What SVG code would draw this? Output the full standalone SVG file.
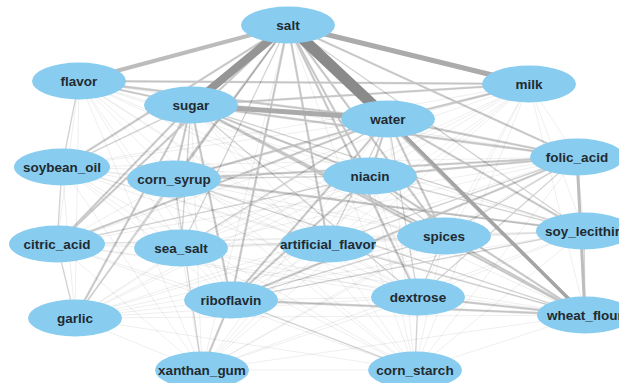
<svg xmlns="http://www.w3.org/2000/svg" width="619" height="383" viewBox="0 0 619 383">
<style>
.faint{fill:none;stroke:#000;stroke-opacity:0.065;stroke-width:1}
.light{fill:none;stroke:#000;stroke-opacity:0.12;stroke-width:1.5}
.med{fill:none;stroke:#000;stroke-opacity:0.18;stroke-width:2.3}
.node ellipse{fill:#88CDF0}
.node text{font-family:"Liberation Sans",Arial,sans-serif;font-size:13.5px;font-weight:bold;fill:#222a30;text-anchor:middle}
</style>
<rect width="619" height="383" fill="#fff"/>
<g id="connectors">
<g id="faint-edges">
<path class="faint" d="M288 25L79 81M288 25L191 105M288 25L529 84M288 25L388 119M288 25L62 167M288 25L174 179M288 25L370 176M288 25L577 157M288 25L57 244M288 25L181 248M288 25L328 244M288 25L444 236M288 25L584 231M288 25L75 318M288 25L231 300M288 25L418 297M288 25L585 315M288 25L202 370M288 25L415 370"/>
<path class="faint" d="M79 81L191 105M79 81L529 84M79 81L388 119M79 81L62 167M79 81L174 179M79 81L370 176M79 81L577 157M79 81L57 244M79 81L181 248M79 81L328 244M79 81L444 236M79 81L584 231M79 81L75 318M79 81L231 300M79 81L418 297M79 81L585 315M79 81L202 370M79 81L415 370"/>
<path class="faint" d="M191 105L529 84M191 105L388 119M191 105L62 167M191 105L174 179M191 105L370 176M191 105L577 157M191 105L57 244M191 105L181 248M191 105L328 244M191 105L444 236M191 105L584 231M191 105L75 318M191 105L231 300M191 105L418 297M191 105L585 315M191 105L202 370M191 105L415 370"/>
<path class="faint" d="M529 84L388 119M529 84L62 167M529 84L174 179M529 84L370 176M529 84L577 157M529 84L57 244M529 84L181 248M529 84L328 244M529 84L444 236M529 84L584 231M529 84L75 318M529 84L231 300M529 84L418 297M529 84L585 315M529 84L202 370M529 84L415 370"/>
<path class="faint" d="M388 119L62 167M388 119L174 179M388 119L370 176M388 119L577 157M388 119L57 244M388 119L181 248M388 119L328 244M388 119L444 236M388 119L584 231M388 119L75 318M388 119L231 300M388 119L418 297M388 119L585 315M388 119L202 370M388 119L415 370"/>
<path class="faint" d="M62 167L174 179M62 167L370 176M62 167L577 157M62 167L57 244M62 167L181 248M62 167L328 244M62 167L444 236M62 167L584 231M62 167L75 318M62 167L231 300M62 167L418 297M62 167L585 315M62 167L202 370M62 167L415 370"/>
<path class="faint" d="M174 179L370 176M174 179L577 157M174 179L57 244M174 179L181 248M174 179L328 244M174 179L444 236M174 179L584 231M174 179L75 318M174 179L231 300M174 179L418 297M174 179L585 315M174 179L202 370M174 179L415 370"/>
<path class="faint" d="M370 176L577 157M370 176L57 244M370 176L181 248M370 176L328 244M370 176L444 236M370 176L584 231M370 176L75 318M370 176L231 300M370 176L418 297M370 176L585 315M370 176L202 370M370 176L415 370"/>
<path class="faint" d="M577 157L57 244M577 157L181 248M577 157L328 244M577 157L444 236M577 157L584 231M577 157L75 318M577 157L231 300M577 157L418 297M577 157L585 315M577 157L202 370M577 157L415 370"/>
<path class="faint" d="M57 244L181 248M57 244L328 244M57 244L444 236M57 244L584 231M57 244L75 318M57 244L231 300M57 244L418 297M57 244L585 315M57 244L202 370M57 244L415 370"/>
<path class="faint" d="M181 248L328 244M181 248L444 236M181 248L584 231M181 248L75 318M181 248L231 300M181 248L418 297M181 248L585 315M181 248L202 370M181 248L415 370"/>
<path class="faint" d="M328 244L444 236M328 244L584 231M328 244L75 318M328 244L231 300M328 244L418 297M328 244L585 315M328 244L202 370M328 244L415 370"/>
<path class="faint" d="M444 236L584 231M444 236L75 318M444 236L231 300M444 236L418 297M444 236L585 315M444 236L202 370M444 236L415 370"/>
<path class="faint" d="M584 231L75 318M584 231L231 300M584 231L418 297M584 231L585 315M584 231L202 370M584 231L415 370"/>
<path class="faint" d="M75 318L231 300M75 318L418 297M75 318L585 315M75 318L202 370M75 318L415 370"/>
<path class="faint" d="M231 300L418 297M231 300L585 315M231 300L202 370M231 300L415 370"/>
<path class="faint" d="M418 297L585 315M418 297L202 370M418 297L415 370M585 315L202 370M585 315L415 370M202 370L415 370"/>
</g>
<g id="light-edges">
<path class="light" d="M288 25L181 248M288 25L584 231M288 25L75 318M191 105L62 167M191 105L418 297M191 105L181 248M191 105L584 231M388 119L418 297M388 119L328 244M388 119L181 248M370 176L444 236M370 176L584 231M370 176L57 244M577 157L444 236M577 157L418 297M577 157L328 244M584 231L585 315M174 179L585 315M174 179L370 176M231 300L415 370M231 300L584 231M231 300L444 236M418 297L415 370M328 244L585 315M57 244L75 318M62 167L57 244M79 81L62 167M75 318L174 179M202 370L174 179M444 236L418 297"/>
</g>
<g id="medium-edges">
<path class="med" d="M288 25L370 176M288 25L577 157M288 25L444 236M288 25L585 315M288 25L231 300M288 25L174 179M288 25L418 297M288 25L328 244M288 25L62 167M288 25L57 244M191 105L370 176M191 105L577 157M191 105L529 84M191 105L79 81M191 105L174 179M191 105L57 244M191 105L231 300M191 105L444 236M191 105L585 315M388 119L370 176M388 119L577 157M388 119L444 236M388 119L584 231M388 119L57 244M388 119L174 179M388 119L79 81M388 119L529 84M388 119L231 300M79 81L529 84M370 176L231 300M370 176L577 157M370 176L585 315M577 157L231 300M577 157L174 179M231 300L585 315M418 297L585 315M444 236L585 315M174 179L584 231M231 300L202 370M75 318L191 105"/>
</g>
<g id="heavy-edges" fill="none" stroke-linecap="round">
<line x1="288" y1="25" x2="79" y2="81" stroke="#bcbcbc" stroke-width="4"/>
<line x1="288" y1="25" x2="529" y2="84" stroke="#ababab" stroke-width="5"/>
<line x1="191" y1="105" x2="388" y2="119" stroke="#aaaaaa" stroke-width="5"/>
<line x1="388" y1="119" x2="585" y2="315" stroke="#a4a4a4" stroke-width="3.5"/>
<line x1="577" y1="157" x2="585" y2="315" stroke="#bdbdbd" stroke-width="3"/>
<line x1="288" y1="25" x2="191" y2="105" stroke="#959595" stroke-width="8"/>
<line x1="288" y1="25" x2="388" y2="119" stroke="#8a8a8a" stroke-width="11"/>
</g>
</g>
<g id="node-salt" class="node"><ellipse cx="288" cy="25" rx="47" ry="18.5"/><text x="288" y="30">salt</text></g>
<g id="node-flavor" class="node"><ellipse cx="79" cy="81" rx="47" ry="18.5"/><text x="79" y="86">flavor</text></g>
<g id="node-milk" class="node"><ellipse cx="529" cy="84" rx="47" ry="18.5"/><text x="529" y="89">milk</text></g>
<g id="node-sugar" class="node"><ellipse cx="191" cy="105" rx="47" ry="18.5"/><text x="191" y="110">sugar</text></g>
<g id="node-water" class="node"><ellipse cx="388" cy="119" rx="47" ry="18.5"/><text x="388" y="124">water</text></g>
<g id="node-folic_acid" class="node"><ellipse cx="577" cy="157" rx="47" ry="18.5"/><text x="577" y="162">folic_acid</text></g>
<g id="node-soybean_oil" class="node"><ellipse cx="62" cy="167" rx="48" ry="18.5"/><text x="62" y="172">soybean_oil</text></g>
<g id="node-niacin" class="node"><ellipse cx="370" cy="176" rx="47" ry="18.5"/><text x="370" y="181">niacin</text></g>
<g id="node-corn_syrup" class="node"><ellipse cx="174" cy="179" rx="47" ry="18.5"/><text x="174" y="184">corn_syrup</text></g>
<g id="node-soy_lecithin" class="node"><ellipse cx="584" cy="231" rx="48" ry="18.5"/><text x="584" y="236">soy_lecithin</text></g>
<g id="node-spices" class="node"><ellipse cx="444" cy="236" rx="47" ry="18.5"/><text x="444" y="241">spices</text></g>
<g id="node-citric_acid" class="node"><ellipse cx="57" cy="244" rx="48" ry="18.5"/><text x="57" y="249">citric_acid</text></g>
<g id="node-artificial_flavor" class="node"><ellipse cx="328" cy="244" rx="48" ry="18.5"/><text x="328" y="249">artificial_flavor</text></g>
<g id="node-sea_salt" class="node"><ellipse cx="181" cy="248" rx="47" ry="18.5"/><text x="181" y="253">sea_salt</text></g>
<g id="node-dextrose" class="node"><ellipse cx="418" cy="297" rx="47" ry="18.5"/><text x="418" y="302">dextrose</text></g>
<g id="node-riboflavin" class="node"><ellipse cx="231" cy="300" rx="47" ry="18.5"/><text x="231" y="305">riboflavin</text></g>
<g id="node-wheat_flour" class="node"><ellipse cx="585" cy="315" rx="48" ry="18.5"/><text x="585" y="320">wheat_flour</text></g>
<g id="node-garlic" class="node"><ellipse cx="75" cy="318" rx="47" ry="18.5"/><text x="75" y="323">garlic</text></g>
<g id="node-xanthan_gum" class="node"><ellipse cx="202" cy="370" rx="47" ry="18.5"/><text x="202" y="375">xanthan_gum</text></g>
<g id="node-corn_starch" class="node"><ellipse cx="415" cy="370" rx="47" ry="18.5"/><text x="415" y="375">corn_starch</text></g>
</svg>
